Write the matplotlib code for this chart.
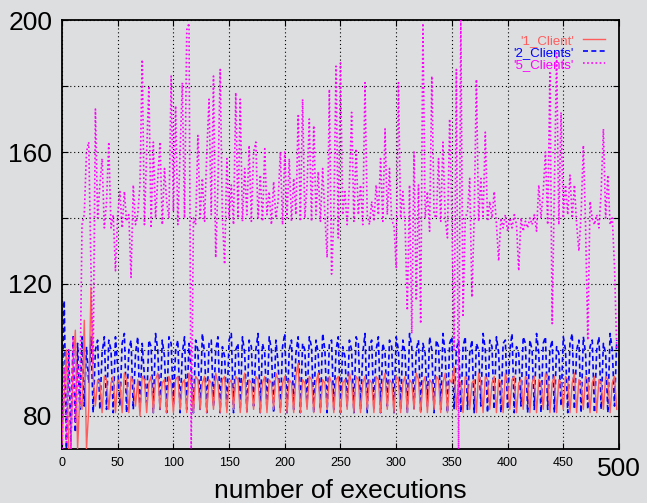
import matplotlib.pyplot as plt

plt.rcParams['font.family'] = ['Liberation Sans', 'DejaVu Sans']

# execution index (every second run)
executions = list(range(0, 500, 2))

client_1 = [
    72, 86, 100, 70, 70, 96, 106, 70, 86, 82,
    109, 70, 82, 119, 92, 83, 91, 90, 81, 92,
    91, 82, 90, 92, 81, 91, 90, 81, 93, 91,
    81, 92, 90, 83, 91, 80, 92, 91, 81, 90,
    92, 81, 91, 93, 82, 90, 91, 81, 92, 90,
    81, 91, 92, 82, 90, 91, 81, 93, 90, 81,
    92, 91, 82, 90, 92, 81, 91, 90, 82, 93,
    90, 81, 91, 92, 81, 90, 91, 82, 92, 91,
    81, 90, 93, 81, 91, 90, 82, 92, 91, 81,
    90, 92, 81, 91, 90, 82, 93, 91, 81, 90,
    92, 81, 91, 90, 81, 92, 96, 81, 91, 90,
    82, 92, 91, 81, 90, 93, 81, 91, 90, 82,
    92, 90, 81, 91, 92, 81, 90, 91, 82, 93,
    90, 81, 92, 91, 81, 90, 92, 82, 91, 90,
    81, 92, 91, 81, 90, 93, 82, 91, 90, 81,
    92, 91, 81, 90, 92, 81, 91, 90, 82, 93,
    91, 81, 90, 92, 81, 91, 90, 82, 92, 91,
    81, 90, 93, 81, 91, 90, 95, 82, 91, 90,
    81, 92, 91, 82, 90, 91, 81, 93, 90, 81,
    92, 91, 82, 90, 92, 81, 91, 90, 81, 93,
    90, 82, 91, 92, 81, 90, 91, 82, 92, 91,
    81, 90, 92, 81, 91, 90, 82, 93, 91, 81,
    90, 92, 81, 91, 90, 82, 92, 91, 81, 90,
    93, 81, 91, 90, 82, 92, 91, 81, 90, 92,
    81, 91, 90, 82, 92, 91, 81, 90, 92, 82,
]

clients_2 = [
    85, 115, 70, 100, 72, 104, 75, 102, 82, 104,
    83, 101, 90, 104, 81, 100, 103, 82, 99, 104,
    82, 103, 100, 81, 104, 95, 83, 102, 105, 81,
    100, 103, 82, 99, 104, 81, 102, 92, 84, 103,
    101, 81, 105, 100, 82, 103, 98, 81, 104, 102,
    83, 100, 103, 81, 99, 104, 82, 102, 94, 81,
    103, 100, 82, 105, 99, 81, 102, 103, 83, 100,
    104, 81, 101, 98, 82, 103, 105, 81, 100, 102,
    82, 104, 99, 81, 103, 101, 83, 100, 105, 81,
    102, 99, 82, 104, 100, 81, 103, 96, 82, 101,
    105, 81, 100, 103, 82, 99, 104, 81, 102, 100,
    83, 104, 101, 81, 103, 99, 82, 105, 100, 81,
    102, 103, 82, 100, 104, 81, 101, 98, 83, 103,
    100, 81, 104, 102, 82, 99, 105, 81, 101, 103,
    82, 100, 104, 81, 102, 99, 83, 103, 101, 81,
    104, 100, 82, 103, 99, 81, 105, 101, 82, 100,
    103, 81, 102, 99, 83, 104, 100, 81, 103, 101,
    82, 105, 99, 81, 102, 104, 82, 100, 103, 81,
    101, 104, 82, 99, 103, 81, 102, 100, 83, 105,
    100, 81, 103, 101, 82, 104, 99, 81, 102, 103,
    82, 100, 105, 81, 101, 99, 83, 104, 102, 81,
    103, 100, 82, 105, 99, 81, 102, 104, 82, 100,
    103, 81, 101, 99, 83, 104, 100, 81, 102, 105,
    82, 100, 103, 81, 104, 99, 82, 101, 103, 81,
    100, 104, 82, 102, 99, 81, 105, 100, 83, 103,
]

clients_5 = [
    70, 95, 72, 100, 70, 104, 78, 96, 84, 138,
    141, 160, 163, 125, 96, 173, 140, 150, 158, 137,
    145, 163, 137, 141, 124, 141, 148, 137, 148, 139,
    141, 122, 150, 138, 141, 150, 188, 138, 160, 180,
    137, 163, 140, 152, 163, 138, 155, 145, 140, 183,
    142, 174, 138, 160, 181, 140, 197, 199, 70, 140,
    138, 165, 140, 152, 139, 160, 176, 141, 183, 128,
    150, 185, 140, 126, 158, 140, 150, 138, 178, 140,
    176, 139, 155, 141, 162, 139, 160, 163, 140, 153,
    139, 161, 141, 148, 138, 151, 140, 145, 160, 138,
    160, 140, 158, 139, 152, 141, 171, 139, 176, 140,
    150, 170, 139, 168, 141, 154, 139, 155, 141, 128,
    179, 123, 140, 186, 134, 187, 141, 148, 138, 150,
    172, 139, 161, 141, 150, 138, 181, 141, 138, 145,
    139, 150, 141, 158, 139, 167, 141, 155, 139, 138,
    125, 181, 140, 148, 138, 112, 150, 105, 160, 115,
    150, 108, 199, 140, 148, 136, 183, 141, 140, 158,
    139, 163, 140, 134, 170, 140, 100, 185, 70, 200,
    110, 140, 142, 152, 116, 140, 182, 139, 152, 140,
    166, 139, 145, 140, 148, 138, 127, 140, 137, 141,
    136, 140, 137, 141, 138, 124, 140, 136, 139, 137,
    140, 138, 141, 136, 150, 140, 148, 160, 138, 184,
    108, 150, 190, 138, 172, 140, 150, 141, 153, 140,
    150, 138, 130, 141, 162, 138, 103, 145, 140, 138,
    141, 137, 148, 167, 140, 153, 138, 140, 125, 100,
]

series_names = ["'1_Client'", "'2_Clients'", "'5_Clients'"]
x_ticks = [0, 50, 100, 150, 200, 250, 300, 350, 400, 450, 500]
x_tick_labels = ['0', '50', '100', '150', '200', '250', '300', '350', '400', '450', '500']
y_ticks = [80, 100, 120, 140, 160, 180, 200]
y_tick_labels = ['80', '', '120', '', '160', '', '200']

bg = '#dddee0'
fig = plt.figure(figsize=(6.47, 5.03), dpi=100, facecolor=bg)
ax = fig.add_axes([0.0958, 0.1074, 0.8609, 0.8528], facecolor=bg)

ax.plot(executions, client_1, color='#ff5c5c', lw=1.0, label=series_names[0], zorder=3)
ax.plot(executions, clients_2, color='#0000ff', lw=1.2, ls=(0, (3, 2)), label=series_names[1], zorder=2)
ax.plot(executions, clients_5, color='#ff00ff', lw=1.2, ls=(0, (1, 1.5)), label=series_names[2], zorder=4)

ax.set_xlim(0, 500)
ax.set_ylim(70, 200)
ax.set_xticks(x_ticks)
ax.set_xticklabels(x_tick_labels, fontsize=9)
ax.get_xticklabels()[-1].set_fontsize(19)
ax.set_yticks(y_ticks)
ax.set_yticklabels(y_tick_labels, fontsize=19)
ax.tick_params(direction='in', top=True, right=True, length=4, width=0.8, color='black')
ax.tick_params(axis='x', pad=6)
ax.tick_params(axis='y', pad=7)
ax.grid(True, color='black', linestyle=(0, (1, 2.5)), linewidth=0.8)
ax.set_axisbelow(True)
for s in ax.spines.values():
    s.set_linewidth(1.3)
    s.set_color('black')

ax.set_xlabel('number of executions', fontsize=19)
ax.xaxis.set_label_coords(0.5, -0.097)
ax.xaxis.label.set_verticalalignment('center')

ax.legend(loc='upper right', bbox_to_anchor=(0.99, 0.985), frameon=False, fontsize=9.5,
          markerfirst=False, labelcolor='linecolor', handlelength=1.7,
          labelspacing=0.0, borderaxespad=0.2, handletextpad=0.7)

fig.savefig('out.png', dpi=100, facecolor=bg)
